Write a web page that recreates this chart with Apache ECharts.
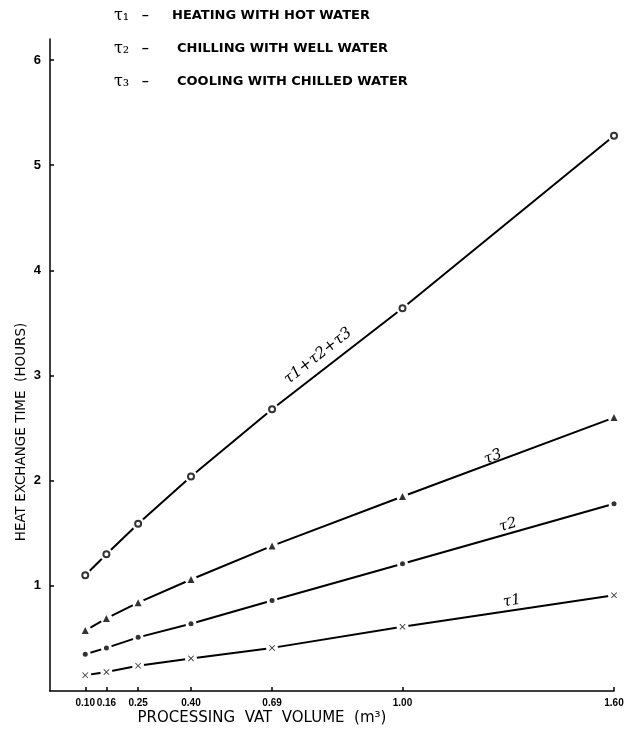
<!DOCTYPE html>
<html>
<head>
<meta charset="utf-8">
<script src="https://cdn.jsdelivr.net/npm/echarts@6/dist/echarts.min.js"></script>
<style>
  html, body { margin: 0; padding: 0; background: #fff; }
  #chart { width: 631px; height: 732px; }
</style>
</head>
<body>
<div id="chart"></div>
<script>
// vat volumes (m3) and the labels printed under them
const volumes = [0.10, 0.16, 0.25, 0.40, 0.63, 1.00, 1.60];
const volumeLabels = ['0.10', '0.16', '0.25', '0.40', '0.69', '1.00', '1.60'];
const hourTicks = [1, 2, 3, 4, 5, 6];

// heat exchange time, hours
const tau1 = [0.15, 0.18, 0.24, 0.31, 0.41, 0.61, 0.91];
const tau2 = [0.35, 0.41, 0.51, 0.64, 0.86, 1.21, 1.78];
const tau3 = [0.575, 0.69, 0.84, 1.06, 1.38, 1.85, 2.60];
const total = [1.10, 1.30, 1.59, 2.04, 2.68, 3.64, 5.28];

const legendLines = [
  ['τ₁', 'HEATING WITH HOT WATER'],
  ['τ₂', 'CHILLING WITH WELL WATER'],
  ['τ₃', 'COOLING WITH CHILLED WATER']
];

const pairs = vals => volumes.map((v, i) => [v, vals[i]]);
const crossPath = 'path://M0,1L1,0L5,4L9,0L10,1L6,5L10,9L9,10L5,6L1,10L0,9L4,5Z';

const chart = echarts.init(document.getElementById('chart'));

function lineSeries(vals) {
  return {
    type: 'line', data: pairs(vals), showSymbol: false, z: 2,
    lineStyle: { color: '#000', width: 2 }, silent: true
  };
}
function haloSeries(vals, size) {
  return {
    type: 'scatter', data: pairs(vals), symbol: 'circle', symbolSize: size, z: 3,
    itemStyle: { color: '#fff', opacity: 1 }, silent: true
  };
}
function markSeries(vals, symbol, size, style) {
  return {
    type: 'scatter', data: pairs(vals), symbol: symbol, symbolSize: size, z: 4,
    itemStyle: style, silent: true
  };
}

const font = "'Liberation Sans', 'DejaVu Sans', sans-serif";
const wide = "'DejaVu Sans', sans-serif";
const graphics = [];
legendLines.forEach((l, i) => {
  const y = 16 + i * 33;
  graphics.push({ type: 'text', x: 114, y: y, style: { text: l[0], font: '16px DejaVu Serif, serif', fill: '#000', textVerticalAlign: 'middle' } });
  graphics.push({ type: 'text', x: 142, y: y, style: { text: '–', font: 'bold 12px ' + font, fill: '#000', textVerticalAlign: 'middle' } });
  graphics.push({ type: 'text', x: i === 0 ? 172 : 177, y: y, style: { text: l[1], font: 'bold 13px ' + wide, fill: '#000', textVerticalAlign: 'middle' } });
});
// series labels along the lines
[
  ['τ1+τ2+τ3', 318, 356, 38, 15.5],
  ['τ3', 493, 457, 20, 15],
  ['τ2', 508, 525, 16, 15],
  ['τ1', 512, 601, 9, 15]
].forEach(t => {
  graphics.push({
    type: 'text', x: t[1], y: t[2], rotation: t[3] * Math.PI / 180,
    style: { text: t[0], font: 'italic ' + t[4] + 'px DejaVu Serif, serif', fill: '#000', textAlign: 'center', textVerticalAlign: 'middle' }
  });
});
// axis titles
graphics.push({
  type: 'text', x: 21, y: 432, rotation: Math.PI / 2,
  style: { text: 'HEAT EXCHANGE TIME  (HOURS)', font: '13.5px ' + wide, fill: '#000', textAlign: 'center', textVerticalAlign: 'middle' }
});
graphics.push({
  type: 'text', x: 262, y: 718,
  style: { text: 'PROCESSING  VAT  VOLUME  (m³)', font: '15px ' + wide, fill: '#000', textAlign: 'center', textVerticalAlign: 'middle' }
});

chart.setOption({
  backgroundColor: '#fff',
  animation: false,
  grid: { left: 50, right: 17, top: 39, bottom: 41 },
  xAxis: {
    type: 'value', min: 0, max: 1.6,
    splitLine: { show: false },
    axisLine: { lineStyle: { color: '#000', width: 1.5 } },
    axisTick: { inside: true, length: 4, customValues: volumes, lineStyle: { color: '#000', width: 1.5 } },
    axisLabel: {
      customValues: volumes, margin: 7, color: '#000', hideOverlap: false,
      showMinLabel: true, showMaxLabel: true,
      fontFamily: font, fontWeight: 'bold', fontSize: 10,
      formatter: v => volumeLabels[volumes.indexOf(v)] ?? ''
    }
  },
  yAxis: {
    type: 'value', min: 0, max: 6.2,
    splitLine: { show: false },
    axisLine: { show: true, lineStyle: { color: '#000', width: 1.5 } },
    axisTick: { show: true, inside: true, length: 4, customValues: hourTicks, lineStyle: { color: '#000', width: 1.5 } },
    axisLabel: { customValues: hourTicks, margin: 9, color: '#000', fontFamily: font, fontWeight: 'bold', fontSize: 13 }
  },
  graphic: graphics,
  series: [
    lineSeries(tau1), lineSeries(tau2), lineSeries(tau3), lineSeries(total),
    haloSeries(tau1, 12), haloSeries(tau2, 11), haloSeries(tau3, 12), haloSeries(total, 13),
    markSeries(tau1, crossPath, 6, { color: '#000' }),
    markSeries(tau2, 'circle', 5, { color: '#000' }),
    markSeries(tau3, 'triangle', 7, { color: '#000' }),
    markSeries(total, 'emptyCircle', 6, { color: '#000', borderColor: '#000', borderWidth: 1.2 })
  ]
});
</script>
</body>
</html>
